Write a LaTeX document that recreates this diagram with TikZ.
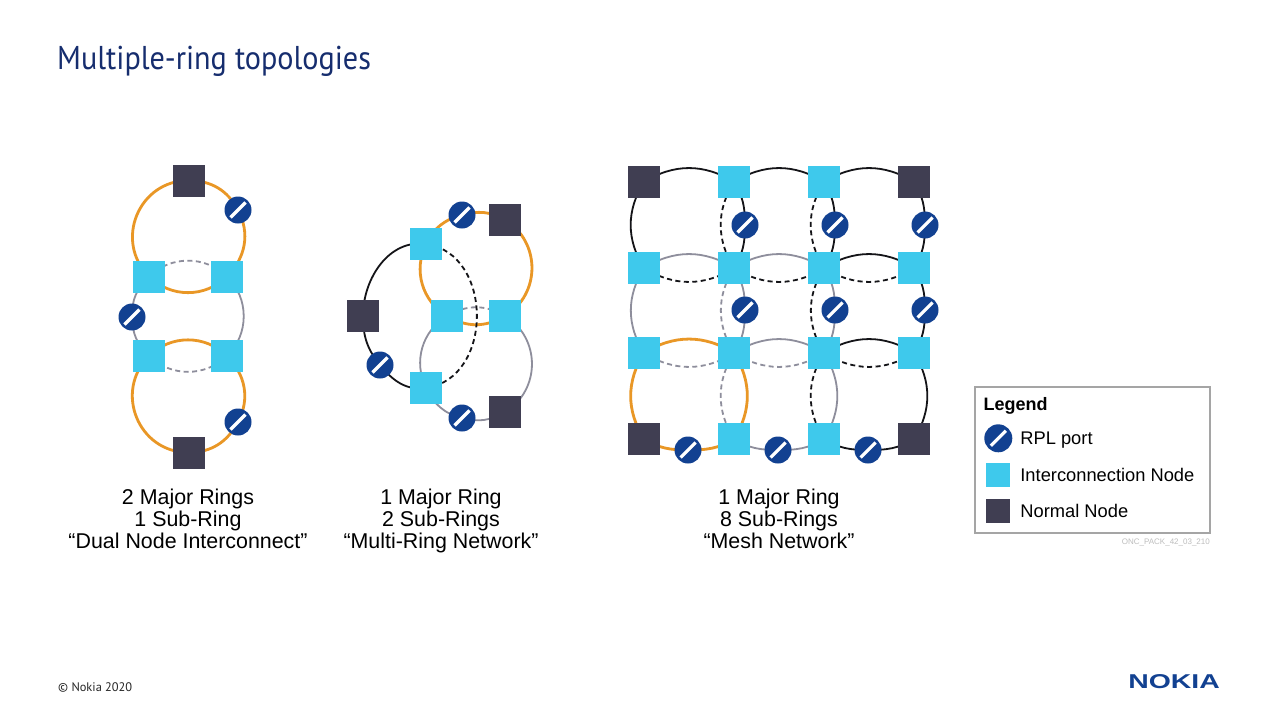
\documentclass[tikz,border=0pt]{standalone}
\usepackage{fontspec}
\setmainfont{Liberation Sans}
\newfontfamily\headfont{PT Sans}
\usetikzlibrary{positioning,backgrounds}

\definecolor{ringorange}{RGB}{233,151,38}
\definecolor{ringgray}{RGB}{142,142,156}
\definecolor{ringblack}{RGB}{20,20,24}
\definecolor{intercyan}{RGB}{62,201,236}
\definecolor{normaldark}{RGB}{64,62,82}
\definecolor{portblue}{RGB}{18,65,145}
\definecolor{titleblue}{RGB}{22,45,110}
\definecolor{legendgray}{RGB}{165,165,165}
\definecolor{codegray}{RGB}{190,190,190}

\tikzset{
  internode/.style={rectangle, fill=intercyan, minimum size=32pt, inner sep=0pt},
  normalnode/.style={rectangle, fill=normaldark, minimum size=32pt, inner sep=0pt},
  rpl/.style={circle, fill=portblue, minimum size=27pt, inner sep=0pt,
    path picture={\draw[white, line width=3.2pt]
      ([shift={(-7.5pt,-7.5pt)}]path picture bounding box.center) --
      ([shift={(7.5pt,7.5pt)}]path picture bounding box.center);}},
  major/.style={draw=ringorange, line width=2.8pt},
  subgray/.style={draw=ringgray, line width=1.8pt},
  subblack/.style={draw=ringblack, line width=1.8pt},
  blocked/.style={dash pattern=on 5pt off 3.5pt},
  ringlabel/.style={align=center, inner sep=0pt, anchor=north, font=\fontsize{21.4}{22}\selectfont},
  legtext/.style={inner sep=0pt, text height=13pt, text depth=0pt, font=\fontsize{18.3}{20}\selectfont},
}

\begin{document}
\begin{tikzpicture}[x=1pt, y=1pt]
  \useasboundingbox (0,0) rectangle (1280,-720);

  \node[font=\headfont\fontsize{33}{38}\selectfont, text=titleblue, anchor=base west, inner sep=0pt] (title) at (57,-69.5) {\scalebox{0.915}[1]{Multiple-ring topologies}};

  % dual node interconnect
  \node[normalnode] (n1) at (188.5,-180.5) {};
  \node[internode] (i1) at (149,-276.5) {};
  \node[internode] (i2) at (227,-276.5) {};
  \node[internode] (i3) at (149,-356) {};
  \node[internode] (i4) at (227,-356) {};
  \node[normalnode] (n2) at (188.5,-452.5) {};
  \node[rpl] (p1) at (238,-210) {};
  \node[rpl] (p2) at (132,-317) {};
  \node[rpl] (p3) at (238,-422) {};

  % multi-ring network
  \node[internode] (A) at (426,-244) {};
  \node[internode] (B) at (447,-316) {};
  \node[internode] (C) at (505,-316) {};
  \node[internode] (D) at (426,-388) {};
  \node[normalnode] (N1) at (505,-220) {};
  \node[normalnode] (N2) at (363,-316) {};
  \node[normalnode] (N3) at (505,-412) {};
  \node[rpl] (P1) at (462,-215) {};
  \node[rpl] (P2) at (380,-365) {};
  \node[rpl] (P3) at (462,-418) {};

  % mesh network
  \node[normalnode] (m11) at (644,-182) {};
  \node[internode] (m12) at (734,-182) {};
  \node[internode] (m13) at (824,-182) {};
  \node[normalnode] (m14) at (914,-182) {};
  \node[internode] (m21) at (644,-268) {};
  \node[internode] (m22) at (734,-268) {};
  \node[internode] (m23) at (824,-268) {};
  \node[internode] (m24) at (914,-268) {};
  \node[internode] (m31) at (644,-353) {};
  \node[internode] (m32) at (734,-353) {};
  \node[internode] (m33) at (824,-353) {};
  \node[internode] (m34) at (914,-353) {};
  \node[normalnode] (m41) at (644,-439) {};
  \node[internode] (m42) at (734,-439) {};
  \node[internode] (m43) at (824,-439) {};
  \node[normalnode] (m44) at (914,-439) {};
  \node[rpl] (q1) at (745,-225) {};
  \node[rpl] (q2) at (835,-225) {};
  \node[rpl] (q3) at (925,-225) {};
  \node[rpl] (q4) at (745,-310) {};
  \node[rpl] (q5) at (835,-310) {};
  \node[rpl] (q6) at (925,-310) {};
  \node[rpl] (q7) at (688,-450) {};
  \node[rpl] (q8) at (778,-450) {};
  \node[rpl] (q9) at (868,-450) {};

  \node[ringlabel] (lab1) at (188,-488.5) {2 Major Rings\\1 Sub-Ring\\“Dual Node Interconnect”};
  \node[ringlabel] (lab2) at (441,-488.5) {1 Major Ring\\2 Sub-Rings\\“Multi-Ring Network”};
  \node[ringlabel] (lab3) at (779,-488.5) {1 Major Ring\\8 Sub-Rings\\“Mesh Network”};

  % legend
  \node[draw=legendgray, line width=1.2pt, fill=white, minimum width=235pt, minimum height=146pt, inner sep=0pt] (legend) at (1092.5,-460) {};
  \node[font=\bfseries\fontsize{18}{20}\selectfont, anchor=base west, inner sep=0pt] (legtitle) at (983.5,-410) {Legend};
  \node[rpl, minimum size=28pt] (lp) at (998.3,-438.3) {};
  \node[internode, minimum size=24pt] (li) at (998,-475.3) {};
  \node[normalnode, minimum size=24pt] (ln) at (998,-511) {};
  \node[legtext, right=7.7pt of lp] (lpt) {RPL port};
  \node[legtext, right=10pt of li] (lit) {Interconnection Node};
  \node[legtext, right=10pt of ln] (lnt) {Normal Node};
  \node[font=\fontsize{8}{9}\selectfont, text=codegray, anchor=base east, inner sep=0pt] (code) at (1210,-544.5) {ONC\_PACK\_42\_03\_210};

  \node[font=\headfont\fontsize{12.4}{15}\selectfont, text=black!85, anchor=base west, inner sep=0pt] (copy) at (58,-691) {© Nokia 2020};
  \node[font=\bfseries\fontsize{20}{22}\selectfont, text=portblue, anchor=base east, inner sep=0pt] (logo) at (1220,-688.5) {\scalebox{1.42}[1]{NOKIA}};

  \begin{pgfonlayer}{background}
    \fill[white] (0,0) rectangle (1280,-720);

    % dual node interconnect rings
    \draw[major] (n1.center) to[out=0,in=118] (p1.center) to[out=-62,in=45] (i2.center)
      to[out=-135,in=-45] (i1.center) to[out=135,in=180,looseness=1.23] (n1.center);
    \draw[subgray, blocked] (i1.center) to[out=44,in=136] (i2.center);
    \draw[subgray] (i2.center) to[out=-44,in=44] (i4.center);
    \draw[subgray, blocked] (i4.center) to[out=-136,in=-44] (i3.center);
    \draw[subgray] (i3.center) to[out=136,in=-89] (p2.center) to[out=91,in=224] (i1.center);
    \draw[major] (i3.center) to[out=45,in=135] (i4.center) to[out=-45,in=62] (p3.center)
      to[out=-118,in=0] (n2.center) to[out=180,in=225,looseness=1.23] (i3.center);

    % multi-ring network rings
    \draw[major] (A.center) to[out=64,in=195] (P1.center) to[out=15,in=149] (N1.center)
      to[out=-31,in=31,looseness=1.12] (C.center) to[out=-149,in=-31] (B.center) to[out=149,in=244] (A.center);
    \draw[subgray, blocked] (B.center) to[out=31,in=149] (C.center);
    \draw[subgray] (C.center) to[out=-31,in=31,looseness=1.12] (N3.center) to[out=-149,in=-15] (P3.center)
      to[out=166,in=-64] (D.center) to[out=116,in=211] (B.center);
    \draw[subblack] (A.center) to[out=172,in=90] (N2.center) to[out=-90,in=129] (P2.center) to[out=-51,in=188] (D.center);
    \draw[subblack, blocked] (D.center) to[out=8,in=-8,looseness=1.22] (A.center);

    % mesh network rings
    \draw[subblack] (m21.center) to[out=122,in=-122] (m11.center) to[out=32,in=148] (m12.center)
      to[out=-58,in=90] (q1.center) to[out=-90,in=58] (m22.center);
    \draw[subblack, blocked] (m21.center) to[out=-32,in=-148] (m22.center);
    \draw[subblack] (m12.center) to[out=32,in=148] (m13.center) to[out=-58,in=90] (q2.center) to[out=-90,in=58] (m23.center);
    \draw[subblack, blocked] (m12.center) to[out=-122,in=122] (m22.center) to[out=-32,in=-148] (m23.center);
    \draw[subblack] (m13.center) to[out=32,in=148] (m14.center) to[out=-58,in=90] (q3.center) to[out=-90,in=58] (m24.center);
    \draw[subblack, blocked] (m13.center) to[out=-122,in=122] (m23.center) to[out=-32,in=-148] (m24.center);

    \draw[subgray] (m31.center) to[out=122,in=-122] (m21.center) to[out=32,in=148] (m22.center)
      to[out=-58,in=90] (q4.center) to[out=-90,in=58] (m32.center);
    \draw[subgray, blocked] (m31.center) to[out=-32,in=-148] (m32.center);
    \draw[subgray] (m22.center) to[out=32,in=148] (m23.center) to[out=-58,in=90] (q5.center) to[out=-90,in=58] (m33.center);
    \draw[subgray, blocked] (m22.center) to[out=-122,in=122] (m32.center) to[out=-32,in=-148] (m33.center);
    \draw[subblack] (m23.center) to[out=32,in=148] (m24.center) to[out=-58,in=90] (q6.center) to[out=-90,in=58] (m34.center);
    \draw[subblack, blocked] (m23.center) to[out=-122,in=122] (m33.center) to[out=-32,in=-148] (m34.center);

    \draw[major] (m31.center) to[out=32,in=148] (m32.center) to[out=-58,in=58] (m42.center)
      to[out=-148,in=0] (q7.center) to[out=180,in=-32] (m41.center) to[out=122,in=-122] (m31.center);
    \draw[subgray] (m32.center) to[out=32,in=148] (m33.center) to[out=-58,in=58] (m43.center)
      to[out=-148,in=0] (q8.center) to[out=180,in=-32] (m42.center);
    \draw[subgray, blocked] (m32.center) to[out=-122,in=122] (m42.center);
    \draw[subblack] (m33.center) to[out=32,in=148] (m34.center) to[out=-58,in=58] (m44.center)
      to[out=-148,in=0] (q9.center) to[out=180,in=-32] (m43.center);
    \draw[subblack, blocked] (m33.center) to[out=-122,in=122] (m43.center);
  \end{pgfonlayer}
\end{tikzpicture}
\end{document}
